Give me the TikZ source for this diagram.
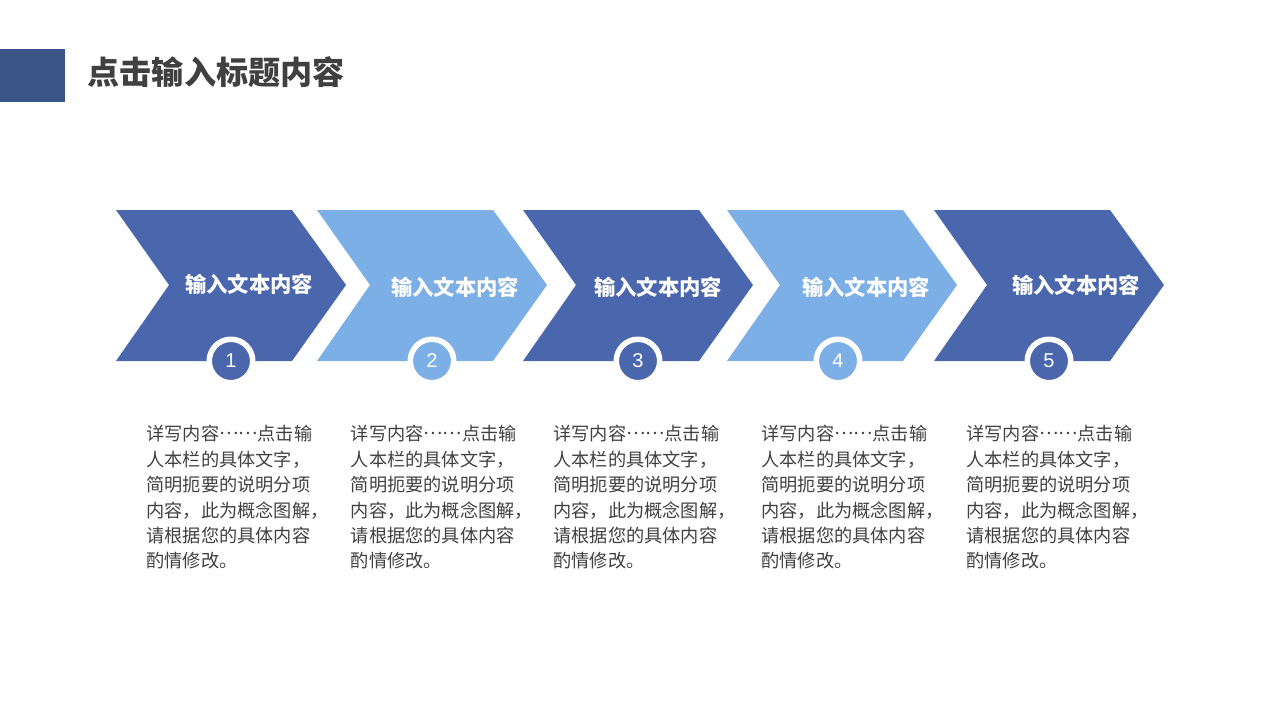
\documentclass[tikz,border=0pt]{standalone}
\usepackage{fontspec}
\setmainfont{Noto Sans CJK SC}
\setsansfont{Liberation Sans}
\definecolor{bluedark}{HTML}{4A66AC}
\definecolor{bluelight}{HTML}{7CAFE5}
\definecolor{bluebar}{HTML}{3A5488}
\definecolor{textgray}{HTML}{404040}
\newcommand{\detailtext}{详写内容\raisebox{.36em}{……}点击输\\人本栏的具体文字，\\简明扼要的说明分项\\内容，此为概念图解，\\请根据您的具体内容\\酌情修改。}
\tikzset{
	chevlabel/.style={text=white, font=\fontsize{21.3}{24}\selectfont\bfseries},
	numdot/.style={circle, inner sep=0pt, minimum size=43.5pt, line width=5.5pt, draw=white, text=white, font=\sffamily\fontsize{20}{24}\selectfont},
	detail/.style={anchor=north west, inner sep=0pt, align=left, text=textgray, font=\fontsize{18.2}{25.4}\selectfont},
	titletext/.style={anchor=west, inner sep=0pt, text=textgray, font=\fontsize{32.1}{38}\selectfont\bfseries}
}
\begin{document}
\begin{tikzpicture}[x=1pt, y=-1pt, line join=round]
	\useasboundingbox (0,0) rectangle (1280,720);
	\fill[bluebar] (0,49) rectangle (65,102);
	\node[titletext] (title) at (87.5,72) {点击输入标题内容};
	\foreach \n/\x/\c/\lx/\ly/\dx/\tx in {1/116/bluedark/249/284.5/231/146.2, 2/317/bluelight/455/287.5/432/350.6, 3/523/bluedark/658/287.5/638/553.2, 4/727/bluelight/866/287.5/838/761.2, 5/934/bluedark/1076/285.5/1049/966.2}{
		\fill[\c] (\x,210) --++(176,0) --++(54,75) --++(-54,76) --++(-176,0) --++(53,-76) --cycle;
		\node[chevlabel] (label\n) at (\lx,\ly) {输入文本内容};
		\node[numdot, fill=\c] (num\n) at (\dx,361) {\n};
		\node[detail] (detail\n) at (\tx,425.2) {\detailtext};
	}
\end{tikzpicture}
\end{document}
